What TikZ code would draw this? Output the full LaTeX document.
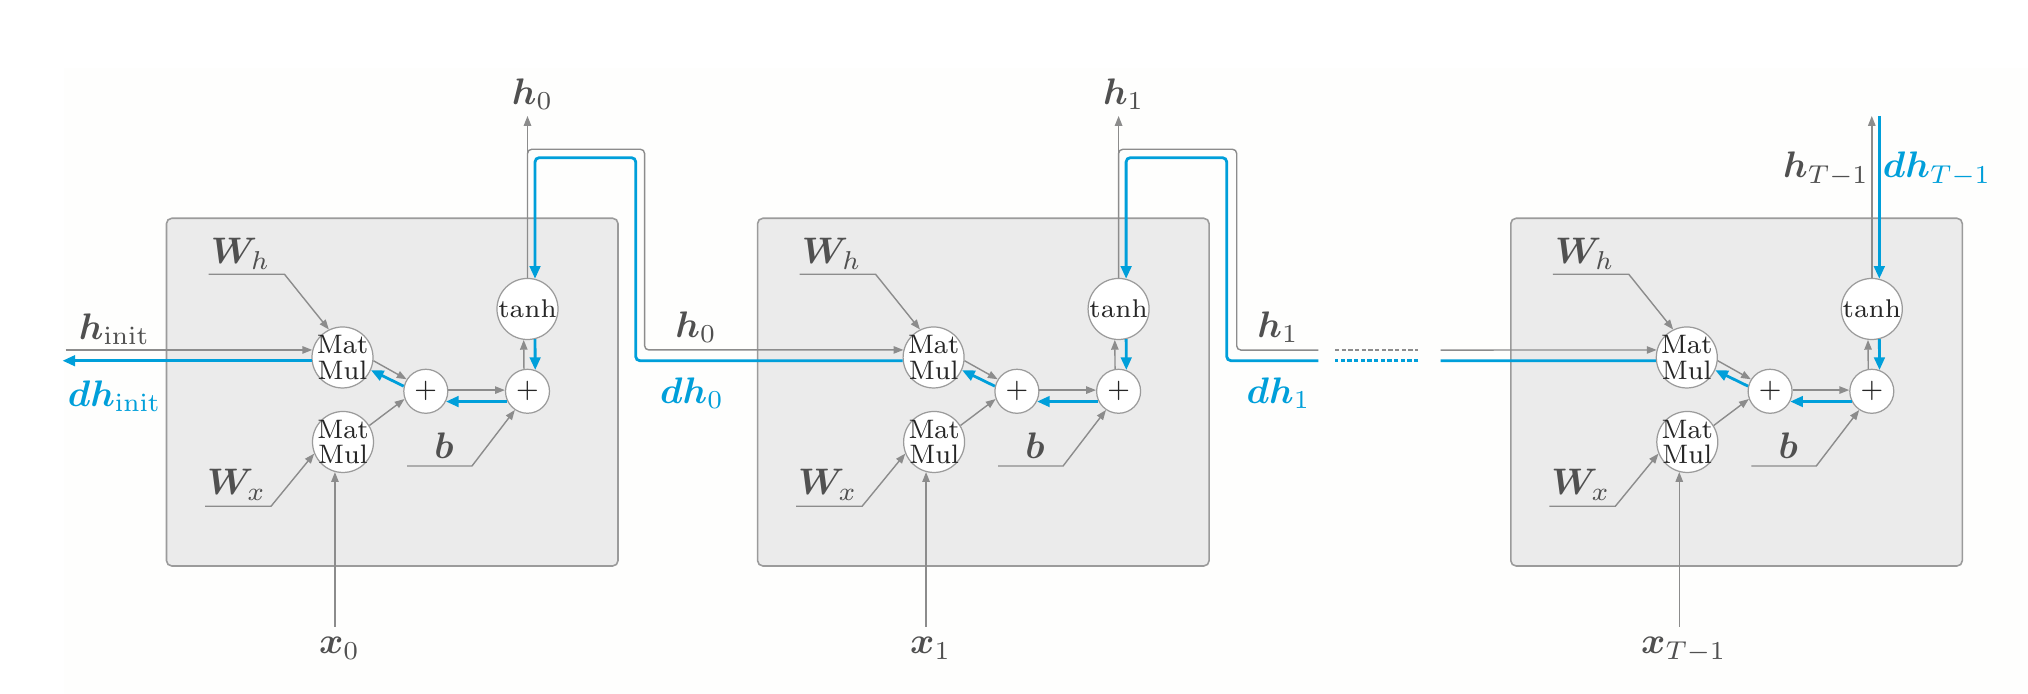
\RequirePackage{fix-cm}
\documentclass[tikz,border=0pt]{standalone}
\usepackage{bm}
\usetikzlibrary{arrows.meta}

\definecolor{bpblue}{RGB}{0,159,218}
\definecolor{fwdgray}{RGB}{140,140,140}
\definecolor{inkgray}{RGB}{80,80,80}
\definecolor{cellfill}{RGB}{235,235,235}
\definecolor{cellline}{RGB}{155,155,155}
\definecolor{papercol}{RGB}{254,254,253}

\begin{document}
\begin{tikzpicture}[
  cell/.style   = {draw=cellline, fill=cellfill, line width=0.45pt, rounded corners=1.5pt},
  op/.style     = {circle, draw=cellline, fill=white, line width=0.35pt, inner sep=-3pt,
                   minimum size=6.1mm, align=center, text=black!85,
                   font=\fontsize{7.6}{7.3}\selectfont},
  fn/.style     = {op, inner sep=0pt, font=\fontsize{7.3}{8}\selectfont},
  plus/.style   = {op, inner sep=0pt, minimum size=4.4mm, font=\fontsize{7.5}{8}\selectfont},
  wire/.style   = {draw=fwdgray, line width=0.4pt},
  fwd/.style    = {wire, -{Triangle[length=2.8pt,width=2.1pt]}},
  bwire/.style  = {draw=bpblue, line width=0.8pt},
  bwd/.style    = {bwire, -{Triangle[length=3.6pt,width=3pt]}},
  gap/.style    = {dash pattern=on 1.2pt off 0.7pt},
  lbl/.style    = {text=inkgray, inner sep=1pt, font=\fontsize{10.5}{12}\selectfont},
  blbl/.style   = {lbl, text=bpblue},
]
  \useasboundingbox (0,0) rectangle (20.28,6.94);
  \fill[papercol] (0.64,0) rectangle (20.28,6.26);

  % one RNN cell per time step
  \foreach \n/\L/\t in {1/1.665/0, 2/7.576/1, 3/15.108/T-1} {
    \begin{scope}[xshift=\L cm]
      \draw[cell] (0,1.28) rectangle (4.515,4.757);
      \node[op]   (mmh\n) at (1.76,3.365)  {Mat\\Mul};
      \node[op]   (mmx\n) at (1.765,2.52)  {Mat\\Mul};
      \node[plus] (pa\n)  at (2.593,3.027) {$+$};
      \node[plus] (pb\n)  at (3.61,3.027)  {$+$};
      \node[fn]   (th\n)  at (3.61,3.85)   {tanh};

      \node[lbl] (wh\n) at (0.74,4.40) {$\bm{W}_h$};
      \node[lbl] (wx\n) at (0.70,2.09) {$\bm{W}_x$};
      \node[lbl] (b\n)  at (2.775,2.48) {$\bm{b}$};
      \node[lbl,anchor=base] (x\n) at (1.73,0.40) {$\bm{x}_{\t}$};

      \coordinate (whin\n) at (0.42,4.197);
      \coordinate (wxin\n) at (0.385,1.877);
      \coordinate (bin\n)  at (2.405,2.28);
      \coordinate (xin\n)  at (1.7,0.673);

      % parameters and input
      \draw[fwd] (whin\n) -- ++(0.76,0) -- (mmh\n.116);
      \draw[fwd] (wxin\n) -- ++(0.66,0) -- (mmx\n.202);
      \draw[fwd] (bin\n) -- ++(0.65,0) -- (pb\n.236);
      \draw[fwd] (mmx\n.255 |- xin\n) -- (mmx\n.255);

      % forward (gray) and backward (blue) inside the cell
      \draw[fwd] (mmh\n.-6) -- (pa\n.148);
      \draw[bwd] (pa\n.167) -- (mmh\n.-24);
      \draw[fwd] (mmx\n.32) -- (pa\n.200);
      \draw[fwd] (pa\n.3) -- (pb\n.177);
      \draw[bwd] (pb\n.207) -- (pa\n.-27);
      \draw[fwd] (pb\n.99) -- (th\n.263);
      \draw[bwd] (th\n.284) -- (pb\n.70);
    \end{scope}
  }

  \coordinate (top) at (0,5.78);
  \coordinate (hinit) at (0.656,0);
  \coordinate (dhinit) at (0.625,0);

  % initial hidden state
  \draw[fwd] (hinit |- mmh1.166) -- (mmh1.166);
  \draw[bwd] (mmh1.186) -- (dhinit |- mmh1.186);
  \node[lbl]  at (1.144,3.65) {$\bm{h}_{\mathrm{init}}$};
  \node[blbl] at (1.145,2.98) {$\bm{dh}_{\mathrm{init}}$};

  % outputs
  \draw[fwd] (th1.north) -- (th1 |- top);
  \draw[fwd] (th2.north) -- (th2 |- top);
  \draw[fwd] (th3.north) -- (th3 |- top);
  \draw[bwd] (th3.76 |- top) -- (th3.76);
  \node[lbl] at (5.325,6.0) {$\bm{h}_0$};
  \node[lbl] at (11.236,6.0) {$\bm{h}_1$};
  \node[lbl]  at (18.26,5.25) {$\bm{h}_{T-1}$};
  \node[blbl] at (19.37,5.25) {$\bm{dh}_{T-1}$};

  % step 0 -> step 1
  \draw[fwd, rounded corners=1.2pt] (th1.north) |- (6.446,5.447) |- (mmh2.166);
  \draw[bwd, rounded corners=1.2pt] (mmh2.186) -| (6.357,5.363) -| (th1.76);
  \node[lbl]  at (6.96,3.67) {$\bm{h}_0$};
  \node[blbl] at (6.92,3.01) {$\bm{dh}_0$};

  % step 1 -> ... -> step T-1
  \draw[wire, rounded corners=1.2pt] (th2.north) |- (12.367,5.447) |- (13.183,3.439);
  \draw[wire, gap] (13.35,3.439) -- (14.183,3.439);
  \draw[fwd] (14.407,3.439) -- (mmh3.166);
  \draw[bwire] (mmh3.186) -- (14.407,3.333);
  \draw[bwire, gap] (14.183,3.333) -- (13.35,3.333);
  \draw[bwd, rounded corners=1.2pt] (13.183,3.333) -| (12.267,5.363) -| (th2.76);
  \node[lbl]  at (12.78,3.67) {$\bm{h}_1$};
  \node[blbl] at (12.785,3.01) {$\bm{dh}_1$};
\end{tikzpicture}
\end{document}
